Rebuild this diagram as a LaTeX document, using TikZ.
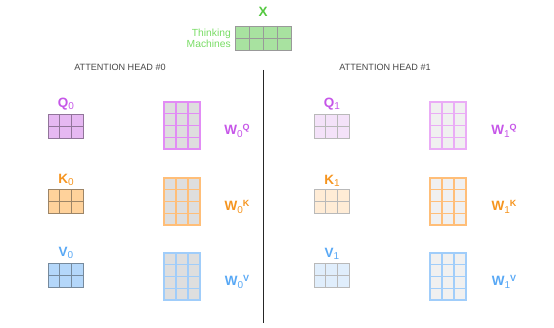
\documentclass[tikz,border=0pt]{standalone}
\usepackage{fontspec}
\setmainfont{Liberation Sans}
\usetikzlibrary{calc}
\definecolor{qlabel}{RGB}{198,86,232}
\definecolor{klabel}{RGB}{245,148,30}
\definecolor{vlabel}{RGB}{88,168,245}
\definecolor{xlabel}{RGB}{84,200,64}
\definecolor{xtext}{RGB}{120,220,100}
\definecolor{headgray}{RGB}{70,70,70}
% input and head 0 fills
\definecolor{xfill}{RGB}{168,226,160}
\definecolor{qfill}{RGB}{230,184,242}
\definecolor{kfill}{RGB}{255,210,155}
\definecolor{vfill}{RGB}{180,215,250}
% head 1 fills
\definecolor{qfillb}{RGB}{244,226,249}
\definecolor{kfillb}{RGB}{255,236,214}
\definecolor{vfillb}{RGB}{224,238,252}
% weight matrix lines
\definecolor{wq}{RGB}{226,140,245}
\definecolor{wk}{RGB}{255,190,120}
\definecolor{wv}{RGB}{160,205,250}
\definecolor{wqb}{RGB}{234,172,246}
\newcommand{\matcells}[4]{%
  \pgfmathtruncatemacro{\mc}{#2-1}\pgfmathtruncatemacro{\mr}{#3-1}%
  \foreach \i in {1,...,\mc}
    \draw[#4] ($(#1.north west)!\i/#2!(#1.north east)$) -- ($(#1.south west)!\i/#2!(#1.south east)$);
  \foreach \j in {1,...,\mr}
    \draw[#4] ($(#1.north west)!\j/#3!(#1.south west)$) -- ($(#1.north east)!\j/#3!(#1.south east)$);
}
\newcommand{\lowidx}[1]{\raisebox{-2.5pt}{\fontsize{10}{10}\selectfont\mdseries #1}}
\newcommand{\highidx}[1]{\raisebox{4pt}{\fontsize{9}{9}\selectfont #1}}

\begin{document}
\begin{tikzpicture}[x=1pt, y=-1pt,
    smat/.style={draw, inner sep=0, outer sep=0, minimum width=35, minimum height=24, line width=0.7pt},
    wmat/.style={draw, inner sep=0, outer sep=0, minimum width=36, minimum height=47, line width=1.2pt},
    xmat/.style={draw=gray!80, fill=xfill, inner sep=0, outer sep=0, minimum width=56, minimum height=24, line width=0.7pt},
    lbl/.style={font=\fontsize{13.5}{14}\selectfont\bfseries, inner sep=0},
    head/.style={font=\fontsize{9.1}{10}\selectfont, text=headgray, inner sep=0}]
\useasboundingbox (0,0) rectangle (554,328);

% Input X
\node[lbl, text=xlabel] (xlbl) at (263,12) {X};
\node[xmat] (x) at (263,38) {};
\matcells{x}{4}{2}{gray!80, line width=0.6pt}
\node[font=\fontsize{10.3}{11}\selectfont, text=xtext, align=right, anchor=east, inner sep=0] (words) at (231,38) {Thinking\\Machines};

% Head titles and divider
\node[head] (head0) at (120,67) {ATTENTION HEAD \#0};
\node[head] (head1) at (385,67) {ATTENTION HEAD \#1};
\coordinate (divtop) at (263,70);
\coordinate (divbot) at (263,323);
\draw[line width=1pt, black!85] (divtop) -- (divbot);

% Head 0
\node[smat, draw=gray!75!qlabel, fill=qfill] (q0) at (65.5,126.5) {};
\node[smat, draw=gray!75!klabel, fill=kfill] (k0) at (65.5,201.5) {};
\node[smat, draw=gray!75!vlabel, fill=vfill] (v0) at (65.5,275.5) {};
\matcells{q0}{3}{2}{gray!75!qlabel, line width=0.6pt}
\matcells{k0}{3}{2}{gray!75!klabel, line width=0.6pt}
\matcells{v0}{3}{2}{gray!75!vlabel, line width=0.6pt}
\node[lbl, text=qlabel] (q0lbl) at (66,104) {Q\lowidx{0}};
\node[lbl, text=klabel] (k0lbl) at (66,180) {K\lowidx{0}};
\node[lbl, text=vlabel] (v0lbl) at (66,253) {V\lowidx{0}};

\node[wmat, draw=wq, fill=black!13] (wq0) at (182,125.5) {};
\node[wmat, draw=wk, fill=black!13] (wk0) at (182,201.5) {};
\node[wmat, draw=wv, fill=black!13] (wv0) at (182,276.5) {};
\matcells{wq0}{3}{4}{wq, line width=1.1pt}
\matcells{wk0}{3}{4}{wk, line width=1.1pt}
\matcells{wv0}{3}{4}{wv, line width=1.1pt}
\node[lbl, text=qlabel] (wq0lbl) at (237,131) {W\lowidx{0}\highidx{Q}};
\node[lbl, text=klabel] (wk0lbl) at (237,207) {W\lowidx{0}\highidx{K}};
\node[lbl, text=vlabel] (wv0lbl) at (237,282) {W\lowidx{0}\highidx{V}};

% Head 1
\node[smat, draw=gray!55, fill=qfillb] (q1) at (331.5,126.5) {};
\node[smat, draw=gray!55, fill=kfillb] (k1) at (331.5,201.5) {};
\node[smat, draw=gray!55, fill=vfillb] (v1) at (331.5,275.5) {};
\matcells{q1}{3}{2}{gray!55, line width=0.6pt}
\matcells{k1}{3}{2}{gray!55, line width=0.6pt}
\matcells{v1}{3}{2}{gray!55, line width=0.6pt}
\node[lbl, text=qlabel] (q1lbl) at (332,104) {Q\lowidx{1}};
\node[lbl, text=klabel] (k1lbl) at (332,181) {K\lowidx{1}};
\node[lbl, text=vlabel] (v1lbl) at (332,254) {V\lowidx{1}};

\node[wmat, draw=wqb, fill=black!6] (wq1) at (448,125.5) {};
\node[wmat, draw=wk, fill=black!6] (wk1) at (448,201.5) {};
\node[wmat, draw=wv, fill=black!6] (wv1) at (448,276.5) {};
\matcells{wq1}{3}{4}{wqb, line width=1.1pt}
\matcells{wk1}{3}{4}{wk, line width=1.1pt}
\matcells{wv1}{3}{4}{wv, line width=1.1pt}
\node[lbl, text=qlabel] (wq1lbl) at (504,131) {W\lowidx{1}\highidx{Q}};
\node[lbl, text=klabel] (wk1lbl) at (504,207) {W\lowidx{1}\highidx{K}};
\node[lbl, text=vlabel] (wv1lbl) at (504,282) {W\lowidx{1}\highidx{V}};

\end{tikzpicture}
\end{document}
